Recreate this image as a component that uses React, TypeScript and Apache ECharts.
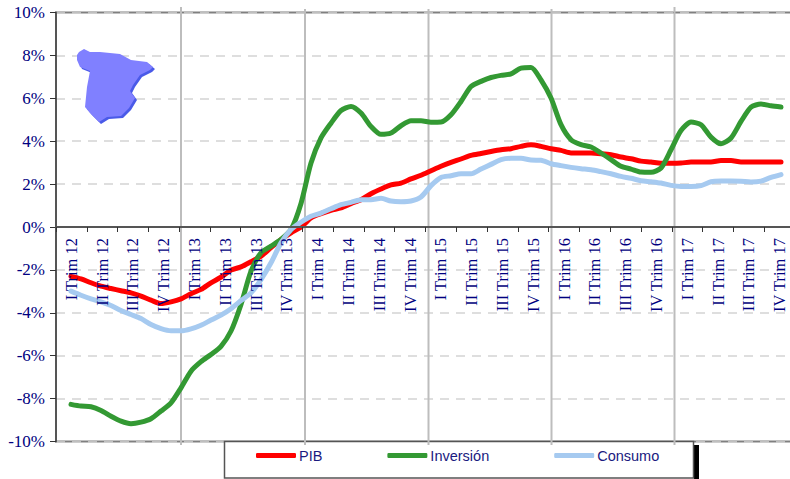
import React, { useEffect, useRef } from "react";
import * as echarts from "echarts";

const yearLabels = ["12", "13", "14", "15", "16", "17"];
const quarterNames = ["I", "II", "III", "IV"];
const quarters = yearLabels.flatMap((y) => quarterNames.map((q) => `${q} Trim ${y}`));

const pib = [-2.3,-2.42,-2.6,-2.76,-2.87,-2.97,-3.07,-3.22,-3.41,-3.57,-3.49,-3.35,-3.11,-2.91,-2.6,-2.34,-2.01,-1.86,-1.62,-1.36,-0.96,-0.58,-0.27,0.0,0.42,0.62,0.78,0.89,1.09,1.27,1.55,1.77,1.96,2.05,2.24,2.41,2.62,2.83,3.01,3.17,3.34,3.43,3.52,3.6,3.65,3.76,3.83,3.76,3.65,3.57,3.45,3.45,3.45,3.42,3.37,3.26,3.18,3.07,3.03,2.97,2.97,2.98,3.03,3.03,3.03,3.1,3.1,3.03,3.03,3.03,3.03,3.03];
const inversion = [-8.27,-8.35,-8.38,-8.55,-8.82,-9.05,-9.17,-9.1,-8.94,-8.58,-8.2,-7.5,-6.72,-6.28,-5.94,-5.56,-4.85,-3.61,-2.06,-1.2,-0.89,-0.58,-0.12,1.1,2.98,4.15,4.84,5.43,5.62,5.31,4.69,4.32,4.38,4.72,4.95,4.95,4.88,4.89,5.23,5.85,6.55,6.79,6.97,7.07,7.14,7.41,7.44,6.86,6.01,4.77,4.07,3.84,3.73,3.45,3.14,2.83,2.7,2.56,2.55,2.75,3.6,4.5,4.89,4.77,4.19,3.88,4.15,4.92,5.59,5.73,5.65,5.59];
const consumo = [-2.99,-3.18,-3.35,-3.49,-3.66,-3.89,-4.08,-4.27,-4.55,-4.74,-4.84,-4.84,-4.75,-4.58,-4.34,-4.11,-3.81,-3.43,-3.07,-2.45,-1.67,-0.74,-0.12,0.22,0.5,0.65,0.85,1.04,1.15,1.27,1.27,1.34,1.21,1.18,1.21,1.4,1.93,2.31,2.39,2.48,2.48,2.7,2.92,3.14,3.2,3.2,3.12,3.11,2.95,2.86,2.78,2.72,2.67,2.58,2.48,2.36,2.27,2.16,2.11,2.05,1.94,1.89,1.89,1.93,2.11,2.14,2.14,2.13,2.1,2.14,2.31,2.44];
const periods = pib.map((_, i) => `P${i + 1}`);

const spainShape: number[][] = [[77,55],[79,52],[84,49],[90,52],[100,52],[110,53],[120,54],[131,60],[147,62],[153,67],[150,70],[140,75],[133,85],[130,91],[135,98],[129,108],[121,116],[107,117],[99,122],[90,113],[85,107],[86,97],[87,87],[90,71],[80,67],[77,60]];
const separators = [181, 305, 428.5, 551.5, 674.5];

const NAVY = "#000080";

export default function App() {
  const ref = useRef<HTMLDivElement>(null);
  useEffect(() => {
    document.body.style.margin = "0";
    const chart = echarts.init(ref.current!, null, { renderer: "svg" });
    const line = (name: string, data: number[], color: string) => ({
      name,
      type: "line",
      xAxisIndex: 1,
      yAxisIndex: 1,
      data,
      showSymbol: false,
      symbol: "none",
      smooth: 0.25,
      z: 3,
      lineStyle: { color, width: 5, cap: "round", join: "round" },
      itemStyle: { color },
    });
    chart.setOption({
      animation: false,
      backgroundColor: "#ffffff",
      grid: [
        { left: 56, top: 12.5, width: 739, height: 429, show: true, outerBoundsMode: "none", borderColor: "#808080", borderWidth: 2, backgroundColor: "transparent" },
        { left: 71, top: 12.5, width: 710, height: 429, show: false, outerBoundsMode: "none" },
      ],
      xAxis: [
        {
          type: "category",
          gridIndex: 0,
          data: quarters,
          boundaryGap: true,
          z: 5,
          axisLine: { onZero: true, lineStyle: { color: "#555555", width: 2 } },
          axisTick: { show: true, length: 5, alignWithLabel: false, lineStyle: { color: "#333333", width: 1 } },
          axisLabel: {
            interval: 0,
            rotate: 90,
            margin: -203.5,
            color: NAVY,
            fontFamily: "Liberation Serif",
            fontSize: 16.5,
          },
          splitLine: { show: false },
        },
        { type: "category", gridIndex: 1, data: periods, boundaryGap: false, show: false },
      ],
      yAxis: [
        {
          type: "value",
          gridIndex: 0,
          min: -10,
          max: 10,
          interval: 2,
          axisLine: { show: true, onZero: false, lineStyle: { color: "#555555", width: 2 } },
          axisTick: { show: true, length: 6, lineStyle: { color: "#333333", width: 1 } },
          axisLabel: {
            formatter: "{value}%",
            margin: 11,
            color: NAVY,
            fontFamily: "Liberation Serif",
            fontSize: 17,
          },
          splitLine: { show: true, lineStyle: { color: "#d4d4d4", width: 1.5, type: [9, 7] } },
        },
        { type: "value", gridIndex: 1, min: -10, max: 10, interval: 2, show: false },
      ],
      legend: {
        left: 256,
        top: 448,
        padding: 0,
        icon: "roundRect",
        itemWidth: 40,
        itemHeight: 5,
        itemGap: 65,
        z: 6,
        textStyle: { color: "#1a1a80", fontFamily: "Liberation Sans", fontSize: 14.5, padding: [12, 0, 0, -2] },
        data: ["PIB", "Inversión", "Consumo"],
      },
      graphic: [
        { type: "rect", z: 1, shape: { x: 694, y: 445, width: 5, height: 34 }, style: { fill: "#000000" } },
        { type: "rect", z: 1, shape: { x: 224.5, y: 441.5, width: 469, height: 36.5 }, style: { fill: "#ffffff", stroke: "#555555", lineWidth: 1.5 } },
        ...separators.map((x, i) => ({
          type: "line",
          z: 1,
          shape: { x1: x, y1: i === 0 || i === 4 ? 7 : 9, x2: x, y2: 445 },
          style: { stroke: "#bdbdbd", lineWidth: 2 },
        })),
        { type: "polygon", z: 1, x: 2, y: 2, shape: { points: spainShape }, style: { fill: "#4a5ae8" } },
        { type: "polygon", z: 1, shape: { points: spainShape }, style: { fill: "#8080ff" } },
      ],
      series: [line("PIB", pib, "#ff0000"), line("Inversión", inversion, "#339933"), line("Consumo", consumo, "#a6caf0")],
    });
    return () => chart.dispose();
  }, []);
  return <div ref={ref} style={{ width: 790, height: 479, overflow: "hidden" }} />;
}
